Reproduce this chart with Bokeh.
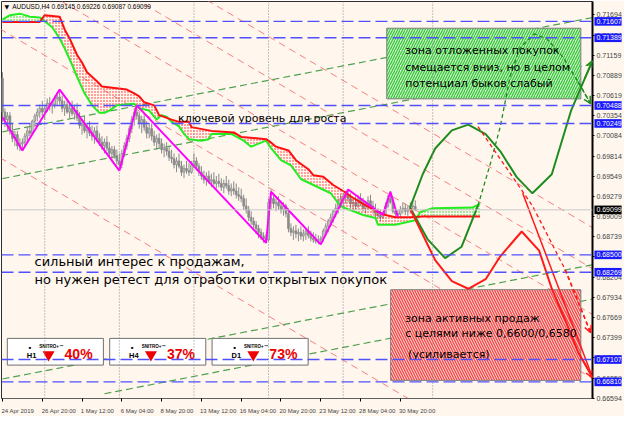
from bokeh.plotting import figure
from bokeh.models import FixedTicker, Span, Arrow, OpenHead
from bokeh.embed import file_html
from bokeh.resources import INLINE
from bokeh.core.properties import value

# ---------------- data ----------------
bar_high = [.7093,.7045,.7040,.7040,.7025,.7015,.7015,.7005,.7005,.7012,.7020,.7025,.7030,.7038,.7045,.7050,
            .7055,.7050,.7058,.7060,.7055,.7062,.7066,.7070,.7062,.7055,.7058,.7052,.7055,.7050,.7052,
            .7040,.7030,.7035,.7025,.7028,.7022,.7020,.7022,.7012,.7008,.7005,.7008,.7000,.6995,.6995,.6990,
            .6985,.6990,.7000,.7010,.7022,.7035,.7045,.7049,.7040,.7035,.7038,.7028,.7025,.7025,
            .7015,.7010,.7012,.7005,.6998,.7000,.6995,.6990,.6985,.6980,.6985,.6975,.6970,.6975,.6972,.6975,
            .6985,.6980,.6972,.6968,.6962,.6960,.6962,.6958,.6960,.6955,.6958,.6952,.6950,.6955,.6950,.6945,
            .6948,.6945,.6940,.6938,.6930,.6925,.6915,.6908,.6900,.6895,.6890,.6885,.6880,.6878,.6925,.6937,
            .6930,.6925,.6928,.6922,.6920,.6918,.6912,.6892,.6888,.6890,.6885,.6888,.6884,.6886,.6888,.6882,
            .6880,.6878,.6876,.6875,.6885,.6892,.6898,.6905,.6910,.6918,.6925,.6930,.6932,.6935,.6937,
            .6932,.6925,.6928,.6930,.6932,.6926,.6922,.6928,.6930,.6922,.6918,.6912,.6910,.6908,.6920,.6930,
            .6935,.6925,.6912,.6910,.6915,.6920,.6918,.6915,.6920,.6922,.69226]
bar_low = [.7027,.7020,.7015,.7010,.7000,.6995,.6990,.6988,.6989,.6995,.7002,.7008,.7010,.7020,.7028,.7032,
           .7035,.7030,.7040,.7042,.7038,.7045,.7048,.7050,.7040,.7035,.7038,.7032,.7035,.7030,.7028,
           .7018,.7010,.7012,.7005,.7008,.7002,.6998,.7000,.6995,.6990,.6985,.6988,.6980,.6975,.6978,.6970,
           .6962,.6965,.6980,.6990,.7000,.7012,.7022,.7030,.7018,.7012,.7015,.7005,.7005,.7002,
           .6995,.6990,.6992,.6985,.6980,.6982,.6975,.6972,.6965,.6960,.6965,.6955,.6952,.6958,.6955,.6958,
           .6965,.6962,.6955,.6950,.6945,.6942,.6945,.6940,.6942,.6938,.6940,.6935,.6932,.6938,.6930,.6928,
           .6930,.6925,.6922,.6920,.6910,.6905,.6895,.6890,.6882,.6878,.6872,.6870,.6866,.6866,.6868,.6910,
           .6912,.6908,.6910,.6905,.6902,.6900,.6880,.6875,.6870,.6872,.6868,.6870,.6868,.6870,.6872,.6868,
           .6866,.6865,.6864,.6864,.6868,.6875,.6880,.6888,.6893,.6900,.6905,.6912,.6915,.6918,.6920,
           .6912,.6908,.6910,.6912,.6915,.6908,.6905,.6910,.6912,.6905,.6900,.6898,.6895,.6898,.6902,.6912,
           .6918,.6905,.6900,.6900,.6900,.6905,.6903,.6902,.6905,.6908,.69087]
bar_close = [.7040,.7030,.7035,.7015,.7005,.7010,.6995,.6998,.7000,.7008,.7015,.7012,.7028,.7035,.7040,.7045,
             .7040,.7045,.7052,.7048,.7050,.7058,.7060,.7055,.7045,.7050,.7040,.7045,.7038,.7042,.7032,
             .7022,.7025,.7015,.7020,.7012,.7008,.7015,.7005,.7000,.6995,.7000,.6992,.6985,.6990,.6982,.6975,
             .6970,.6985,.6995,.7005,.7018,.7030,.7040,.7035,.7025,.7030,.7020,.7012,.7018,.7008,
             .7000,.7005,.6998,.6990,.6992,.6988,.6980,.6978,.6970,.6975,.6968,.6960,.6965,.6962,.6960,.6970,
             .6975,.6968,.6960,.6955,.6950,.6955,.6948,.6950,.6945,.6948,.6945,.6940,.6945,.6942,.6935,.6938,
             .6935,.6930,.6928,.6925,.6915,.6910,.6900,.6895,.6890,.6885,.6880,.6875,.6872,.6870,.6920,.6925,
             .6918,.6920,.6915,.6910,.6915,.6905,.6885,.6880,.6882,.6878,.6880,.6875,.6878,.6882,.6876,.6872,
             .6870,.6868,.6870,.6872,.6882,.6888,.6895,.6900,.6908,.6912,.6920,.6925,.6928,.6930,.6925,
             .6918,.6920,.6915,.6925,.6920,.6912,.6918,.6922,.6915,.6910,.6905,.6902,.6900,.6905,.6915,.6925,
             .6920,.6908,.6905,.6904,.6910,.6912,.6908,.6910,.6915,.69145,.69099]
first_open = 0.7085

# Ichimoku spans (bar index, price)
span_a_i = [0,3,7,11,15,17,20,23,25,28,30,33,36,39,41,43,46,53,55,59,62,64,66,68,71,73,75,80,83,84,92,97,100,
            106,108,112,116,120,125,132,135,137,142,145,150,151,158,162,166,168,173,189,192]
span_a_p = [.7163,.7169,.7171,.7167,.7166,.7161,.7153,.7138,.7125,.7103,.7087,.7065,.7049,.7039,.7039,.7042,
            .7049,.7051,.7045,.7042,.7030,.7036,.7034,.7027,.7021,.7011,.7004,.7002,.7004,.7011,.7011,.7002,
            .6994,.7002,.6992,.6976,.6969,.6951,.6943,.6932,.6919,.6913,.6907,.6903,.6899,.6890,.6890,.6893,
            .6896,.6907,.6912,.6913,.6918]
span_b_i = [0,15,17,23,25,27,30,32,34,38,40,50,53,55,57,61,63,68,71,75,76,84,93,96,106,107,110,115,118,123,
            125,129,133,137,140,145,150,154,158,164,169,192]
span_b_p = [.7160,.7160,.7169,.7167,.7150,.7138,.7116,.7106,.7093,.7081,.7074,.7070,.7065,.7061,.7053,.7049,
            .7036,.7030,.7027,.7027,.7020,.7015,.7013,.7007,.7004,.7002,.6994,.6989,.6976,.6964,.6956,.6954,
            .6943,.6935,.6928,.6918,.6909,.6903,.6900,.6900,.6901,.6901]

# ZigZag
zz_i = [0, 8, 23, 47, 54, 106, 108, 128, 139, 153, 156, 159]
zz_p = [.7033, .6989, .7070, .6962, .7049, .6866, .6934, .6864, .6937, .6903, .6934, .6900]

# horizontal levels
levels = [0.71607, 0.71389, 0.70488, 0.70249, 0.68500, 0.68269, 0.67107, 0.66810]
last_price = 0.69099

# week separators (bar index)
separators = [17, 47, 77, 107, 137, 173]

# ascending green trend lines: (i0, p0, i1, p1)
green_lines = [(0, .70137, 237, .71656), (0, .69515, 237, .71034), (0, .66848, 237, .68367), (41, .66652, 237, .67910)]
# descending salmon trend lines
salmon_lines = [(-1, .73514, 238, .68848), (-1, .72968, 238, .68302), (-1, .72358, 238, .67692),
                (-1, .71507, 238, .66841), (-1, .69793, 238, .65127)]

# forecast paths
fg1_i = [163.9, 169.0, 174.0, 180.7, 187.3, 194.3, 200.2, 206.8, 213.1, 220.9, 228.7, 234.1, 237.3]
fg1_p = [.69129, .69573, .69916, .70157, .70234, .70107, .69878, .69535, .69319, .69573, .70424, .70843, .71084]
fg2_i = [163.9, 170.9, 178.0, 184.6, 191.2, 196.3, 200.2, 204.1, 208.0, 213.9, 218.9, 225.6, 231.4, 236.5]
fg2_p = [.69129, .68710, .68456, .68608, .69154, .69726, .70208, .70869, .71250, .71440, .71377, .71123, .70805, .70513]
fr1_i = [163.9, 174.0, 180.7, 187.3, 194.3, 200.2, 208.8, 215.8, 220.9, 226.3, 231.4, 237.3]
fr1_p = [.69116, .68430, .68151, .68049, .68176, .68481, .68811, .68557, .68049, .67630, .67211, .66868]
fr2_i = [209.2, 237.3]
fr2_p = [.69319, .66868]
fr3_i = [191.2, 213.1, 226.3, 236.5]
fr3_p = [.70208, .69154, .68303, .67465]

# x tick labels
xticks = [0, 16, 32, 48, 64, 80, 96, 112, 128, 144, 160]
xlabels = ["24 Apr 2019", "26 Apr 20:00", "1 May 12:00", "6 May 04:00", "8 May 20:00", "13 May 12:00",
           "16 May 04:00", "20 May 20:00", "23 May 12:00", "28 May 04:00", "30 May 20:00"]
yticks = [0.71694, 0.71424, 0.71159, 0.70889, 0.70619, 0.70354, 0.70084, 0.69814, 0.69549, 0.69279, 0.69009,
          0.68739, 0.68474, 0.68204, 0.67934, 0.67669, 0.67399, 0.67129, 0.66859, 0.66594]

signals = [("H1", "40%"), ("H4", "37%"), ("D1", "73%")]

# ---------------- helpers (reference pixel -> data, for annotation placement) ----------------
def X(px):
    return (px - 2) / 2.5625

def Y(py):
    return 0.71694 - (py - 15) * 0.000127

BG = "#FFF7EE"
p = figure(width=624, height=416, x_range=(X(1), X(610)), y_range=(Y(417), Y(1)),
           output_backend="svg", toolbar_location=None, y_axis_location="right",
           background_fill_color=BG, border_fill_color=BG,
           min_border_left=1, min_border_top=1, min_border_right=0, min_border_bottom=0)
p.grid.visible = False
p.outline_line_color = "#303030"

# y axis
p.yaxis.ticker = FixedTicker(ticks=yticks)
p.yaxis.major_label_overrides = {t: f"{t:.5f}" for t in yticks}
p.yaxis.major_label_text_font = "Liberation Sans"
p.yaxis.major_label_text_font_size = "7px"
p.yaxis.major_label_standoff = 2
p.yaxis.major_tick_in = 0
p.yaxis.major_tick_out = 2
p.yaxis.minor_tick_line_color = None
p.yaxis.axis_line_width = 2
p.yaxis.axis_line_color = "black"

# x axis: labels start at their tick (MT4 style) -> label centres shifted right, tick marks as minor ticks
label_centres = [t + 0.56 * len(s) for t, s in zip(xticks, xlabels)]
p.xaxis.ticker = FixedTicker(ticks=label_centres, minor_ticks=xticks)
p.xaxis.major_label_overrides = dict(zip(label_centres, xlabels))
p.xaxis.major_label_text_font = "Liberation Sans"
p.xaxis.major_label_text_font_size = "6px"
p.xaxis.major_label_standoff = 3
p.xaxis.major_tick_line_color = None
p.xaxis.minor_tick_in = 0
p.xaxis.minor_tick_out = 3
p.xaxis.minor_tick_line_color = "black"
p.xaxis.axis_line_color = "#606060"

# separators
for s in separators:
    p.add_layout(Span(location=s, dimension="height", line_color="#8a8a8a", line_dash="1 2", line_width=1))

# trend lines
for (i0, p0, i1, p1) in salmon_lines:
    p.line([i0, i1], [p0, p1], line_color="#F77F7F", line_dash="7 5", line_width=1)
for (i0, p0, i1, p1) in green_lines:
    p.line([i0, i1], [p0, p1], line_color="#4FA04F", line_dash="7 4", line_width=1.2)

# levels
for lv in levels:
    p.add_layout(Span(location=lv, dimension="width", line_color="#5050FF", line_dash="12 5", line_width=1.4))
p.add_layout(Span(location=last_price, dimension="width", line_color="#C8C8C8", line_width=1))

# zone boxes
p.quad(left=X(398), right=X(598), top=Y(29), bottom=Y(103), fill_color="#D3F5D3", line_color="#7d7d7d",
       hatch_pattern="right_diagonal_line", hatch_color="#38C838", hatch_scale=5, hatch_weight=1.3)
p.quad(left=X(402), right=X(598), top=Y(303), bottom=Y(398), fill_color="#FFDCD8", line_color="#7d7d7d",
       hatch_pattern="left_diagonal_line", hatch_color="#F24A4A", hatch_scale=5, hatch_weight=1.4)

# candles
opens = [first_open] + bar_close[:-1]
idx = list(range(len(bar_close)))
p.segment(x0=idx, y0=bar_low, x1=idx, y1=bar_high, line_color="#8a8a8a", line_width=1)
up = [k for k in idx if bar_close[k] >= opens[k]]
dn = [k for k in idx if bar_close[k] < opens[k]]
p.vbar(x=up, width=0.7, top=[bar_close[k] for k in up], bottom=[opens[k] for k in up],
       fill_color="#d4d4d4", line_color="#8a8a8a", line_width=0.8)
p.vbar(x=dn, width=0.7, top=[opens[k] for k in dn], bottom=[bar_close[k] for k in dn],
       fill_color="#8a8a8a", line_color="#8a8a8a", line_width=0.8)

# cloud hatch
def cloud(lo, hi, color):
    ai = [k for k in range(len(span_a_i)) if lo <= span_a_i[k] <= hi]
    bi = [k for k in range(len(span_b_i)) if lo <= span_b_i[k] <= hi]
    xs = [span_a_i[k] for k in ai] + [span_b_i[k] for k in reversed(bi)]
    ys = [span_a_p[k] for k in ai] + [span_b_p[k] for k in reversed(bi)]
    p.patch(xs, ys, fill_alpha=0, line_alpha=0, hatch_pattern="dot", hatch_color=color, hatch_scale=3, hatch_weight=1)

cloud(0, 16, "#22CC22")
cloud(16, 167, "#FF2020")
cloud(166, 192, "#22CC22")
p.line(span_a_i, span_a_p, line_color="#22EE22", line_width=2)
p.line(span_b_i, span_b_p, line_color="#FF1010", line_width=2)

# zigzag
p.line(zz_i, zz_p, line_color="#FF00FF", line_width=2)

# forecast paths
GC, RC = "#1E8C1E", "#FF1A1A"
def arrow(xs, ys, color, dash="solid"):
    p.add_layout(Arrow(end=OpenHead(size=7, line_color=color, line_width=1.5), x_start=xs[-2], y_start=ys[-2],
                       x_end=xs[-1], y_end=ys[-1], line_color=color, line_width=1.5, line_dash=dash))

p.line(fg1_i, fg1_p, line_color=GC, line_width=2)
arrow(fg1_i, fg1_p, GC)
p.line(fg2_i[:5], fg2_p[:5], line_color=GC, line_width=2)
p.line(fg2_i[4:], fg2_p[4:], line_color=GC, line_width=1.3, line_dash="4 3")
arrow(fg2_i, fg2_p, GC, "4 3")
p.line(fr1_i, fr1_p, line_color=RC, line_width=2)
arrow(fr1_i, fr1_p, RC)
p.line(fr2_i, fr2_p, line_color=RC, line_width=1.5)
p.line(fr3_i, fr3_p, line_color=RC, line_width=1.3, line_dash="4 3")
arrow(fr3_i, fr3_p, RC, "4 3")

# texts
TF = value("DejaVu Sans")
LF = value("Liberation Sans")
def txt(px, py, s, size="11px", color="black", style="normal", font=TF, align="left", level="glyph"):
    p.text(x=[X(px)], y=[Y(py)], text=[s], text_font=font, text_font_size=size, text_color=color,
           text_baseline="middle", text_align=align, text_font_style=style, level=level)

txt(183, 124, "ключевой уровень для роста")
txt(417, 52, "зона отложенных покупок")
txt(417, 70, "смещается вниз, но в целом")
txt(417, 87, "потенциал быков слабый")
txt(417, 333, "зона активных продаж")
txt(417, 349, "с целями ниже 0,6600/0,6580")
txt(420, 371, "(усиливается)")
txt(35, 273, "сильный интерес к продажам,", size="13px")
txt(35, 292, "но нужен ретест для отработки открытых покупок", size="13px")

# header
txt(4, 6, "\u25BC", size="6px")
txt(12, 6, "AUDUSD,H4  0.69145 0.69226 0.69087 0.69099", size="6.5px", font=LF)

# signal panels
for k, (tf, pct) in enumerate(signals):
    ox = k * 105.5
    p.quad(left=X(7 + ox), right=X(106 + ox), top=Y(354), bottom=Y(382), fill_color="white", line_color="#707070")
    txt(27 + ox, 372, tf, size="7.5px", font=LF, style="bold")
    txt(29 + ox, 364, "\u25A0", size="4px", font=LF)
    txt(40 + ox, 362, "SNITRO+\u2122", size="4.5px", font=LF, style="bold")
    p.scatter(x=[X(49.5 + ox)], y=[Y(371)], marker="inverted_triangle", size=12, fill_color="#EE0000", line_color=None)
    txt(66 + ox, 370, pct, size="14px", color="#EE0000", font=LF, style="bold")

# price boxes on the price scale (drawn unclipped, over the axis labels)
box_h = 9 * 0.000127
p.rect(x=[X(626)] * len(levels), y=levels, width=X(640) - X(612), height=box_h, fill_color="#1a1aff",
       line_color=None, level="annotation")
p.text(x=[X(614)] * len(levels), y=levels, text=[f"{lv:.5f}" for lv in levels], text_font=LF,
       text_font_size="7px", text_color="white", text_baseline="middle", level="annotation")
p.rect(x=[X(626)], y=[last_price], width=X(640) - X(612), height=box_h, fill_color="black",
       line_color=None, level="annotation")
p.text(x=[X(614)], y=[last_price], text=[f"{last_price:.5f}"], text_font=LF,
       text_font_size="7px", text_color="white", text_baseline="middle", level="annotation")

open("out.html", "w").write(file_html(p, INLINE))
